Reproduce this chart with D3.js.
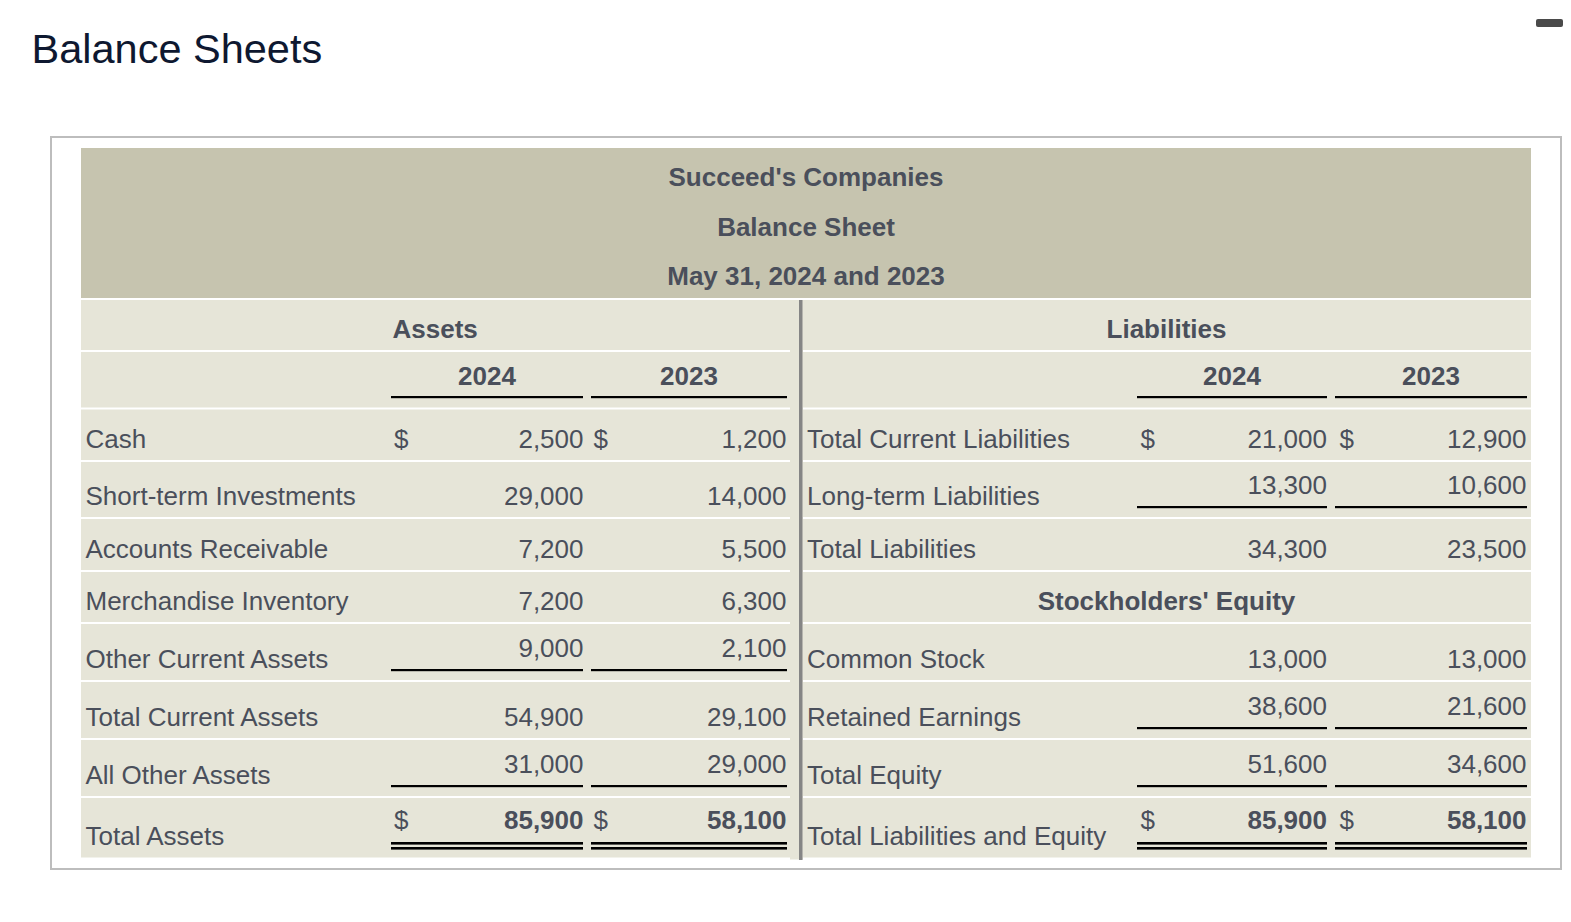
<!DOCTYPE html>
<html>
<head>
<meta charset="utf-8">
<script src="https://cdn.jsdelivr.net/npm/d3@7"></script>
<style>
  body { margin: 0; background: #fff; }
  svg text { font-family: "Liberation Sans", Arial, Helvetica, sans-serif; }
</style>
</head>
<body>
<svg width="1571" height="922"></svg>
<script>
var svg = d3.select('svg');

// header text of the statement
var titleLines = ["Succeed's Companies", "Balance Sheet", "May 31, 2024 and 2023"];
var years = ["2024", "2023"];

// left side: assets
var assetLabels = ["Cash", "Short-term Investments", "Accounts Receivable", "Merchandise Inventory",
                   "Other Current Assets", "Total Current Assets", "All Other Assets", "Total Assets"];
var assets2024 = [2500, 29000, 7200, 7200, 9000, 54900, 31000, 85900];
var assets2023 = [1200, 14000, 5500, 6300, 2100, 29100, 29000, 58100];

// right side: liabilities and equity (null = heading row)
var liabLabels = ["Total Current Liabilities", "Long-term Liabilities", "Total Liabilities", "Stockholders' Equity",
                  "Common Stock", "Retained Earnings", "Total Equity", "Total Liabilities and Equity"];
var liab2024 = [21000, 13300, 34300, null, 13000, 38600, 51600, 85900];
var liab2023 = [12900, 10600, 23500, null, 13000, 21600, 34600, 58100];

// how each body row is formatted: dollar sign, underline under the figures, bold
var assetFmt = [
  {dollar: true}, {}, {}, {}, {line: 1}, {}, {line: 1}, {dollar: true, line: 2, bold: true}
];
var liabFmt = [
  {dollar: true}, {line: 1}, {}, {heading: true}, {}, {line: 1}, {line: 1}, {dollar: true, line: 2, bold: true}
];

var fmt = d3.format(',');
var textColor = '#4a4f5b';
var fs = 26;

// ---- row geometry (header, section row, year row, 8 body rows) ----
var rowHeights = [150, 50, 55.5, 50.5, 55, 51, 50, 56, 56, 56, 59.5];
var gap = 2;
var tableTop = 148, tableLeft = 81, tableRight = 1531;
var tops = [];
var acc = tableTop;
rowHeights.forEach(function(h){ tops.push(acc); acc += h + gap; });
var y = d3.scaleOrdinal().domain(d3.range(rowHeights.length)).range(tops);
function bottom(i){ return y(i) + rowHeights[i]; }
var lastRow = rowHeights.length - 1;

// column anchors
var x = d3.scaleOrdinal()
  .domain(['lLabel', 'lD1', 'lV1', 'lD2', 'lV2', 'rLabel', 'rD1', 'rV1', 'rD2', 'rV2', 'rMid'])
  .range([85.5, 394, 583.5, 593.5, 786.5, 807, 1140.5, 1327, 1339.5, 1526.5, 1166.5]);
var lineSpans = {
  left: [[391, 583], [591, 787]],
  right: [[1137, 1327], [1335, 1527]]
};

// page title
svg.append('text')
  .attr('x', 31.5).attr('y', 63)
  .attr('font-size', 41.5)
  .attr('fill', '#0e1830')
  .text('Balance Sheets');

// little dark mark in the top right corner
svg.append('rect')
  .attr('x', 1536).attr('y', 19).attr('width', 27).attr('height', 8)
  .attr('rx', 2).attr('fill', '#4a4a4a');

// outer frame
svg.append('rect')
  .attr('x', 51).attr('y', 137).attr('width', 1510).attr('height', 732)
  .attr('fill', '#fff').attr('stroke', '#bdbdbd').attr('stroke-width', 2);

// header band
svg.append('rect')
  .attr('x', tableLeft).attr('y', y(0)).attr('width', tableRight - tableLeft).attr('height', rowHeights[0])
  .attr('fill', '#c6c4af');

svg.selectAll('.titleLine')
  .data(titleLines)
  .enter()
  .append('text')
  .attr('class', 'titleLine')
  .attr('x', (tableLeft + tableRight) / 2)
  .attr('y', function(d, i){ return 186 + i * 49.5; })
  .attr('text-anchor', 'middle')
  .attr('font-size', fs)
  .attr('font-weight', 'bold')
  .attr('fill', textColor)
  .text(function(d){ return d; });

// body row backgrounds, split around the centre divider
var bodyRows = d3.range(1, rowHeights.length);
svg.selectAll('.rowL')
  .data(bodyRows)
  .enter()
  .append('rect')
  .attr('class', 'rowL')
  .attr('x', tableLeft).attr('y', function(i){ return y(i); })
  .attr('width', 790.5 - tableLeft)
  .attr('height', function(i){ return rowHeights[i]; })
  .attr('fill', '#e6e5d8');
svg.selectAll('.rowR')
  .data(bodyRows)
  .enter()
  .append('rect')
  .attr('class', 'rowR')
  .attr('x', 803).attr('y', function(i){ return y(i); })
  .attr('width', tableRight - 803)
  .attr('height', function(i){ return rowHeights[i]; })
  .attr('fill', '#e6e5d8');

// divider strip
svg.append('rect')
  .attr('x', 790).attr('y', y(1)).attr('width', 13).attr('height', bottom(lastRow) - y(1) + 2)
  .attr('fill', '#e6e5d8');
svg.append('rect')
  .attr('x', 799).attr('y', y(1)).attr('width', 3.5).attr('height', bottom(lastRow) - y(1) + 2.5)
  .attr('fill', '#858585');

// section headings
svg.append('text')
  .attr('x', 392.5).attr('y', bottom(1) - 11.7)
  .attr('font-size', fs).attr('font-weight', 'bold').attr('fill', textColor)
  .text('Assets');
svg.append('text')
  .attr('x', x('rMid')).attr('y', bottom(1) - 11.7)
  .attr('text-anchor', 'middle')
  .attr('font-size', fs).attr('font-weight', 'bold').attr('fill', textColor)
  .text('Liabilities');

// year headings with underline
var allSpans = lineSpans.left.concat(lineSpans.right);
var yearCells = [years[0], years[1], years[0], years[1]];
svg.selectAll('.year')
  .data(yearCells)
  .enter()
  .append('text')
  .attr('class', 'year')
  .attr('x', function(d, i){ return (allSpans[i][0] + allSpans[i][1]) / 2; })
  .attr('y', bottom(2) - 23)
  .attr('text-anchor', 'middle')
  .attr('font-size', fs).attr('font-weight', 'bold').attr('fill', textColor)
  .text(function(d){ return d; });
svg.selectAll('.yearLine')
  .data(allSpans)
  .enter()
  .append('rect')
  .attr('class', 'yearLine')
  .attr('x', function(d){ return d[0]; })
  .attr('y', bottom(2) - 11.5)
  .attr('width', function(d){ return d[1] - d[0]; })
  .attr('height', 2.2)
  .attr('fill', '#000');

// draws one side of the statement
function drawSide(side, labels, v1, v2, fmts){
  var pre = side == 'left' ? 'l' : 'r';
  var g = svg.append('g').attr('class', side);
  labels.forEach(function(label, k){
    var row = k + 3;
    var b = bottom(row);
    var f = fmts[k];

    if(f.heading){
      g.append('text')
        .attr('x', x('rMid')).attr('y', b - 12.5)
        .attr('text-anchor', 'middle')
        .attr('font-size', fs).attr('font-weight', 'bold').attr('fill', textColor)
        .text(label);
      return;
    }

    g.append('text')
      .attr('x', x(pre + 'Label')).attr('y', b - 12.5)
      .attr('font-size', fs).attr('fill', textColor)
      .text(label);

    var vy = f.line == 2 ? b - 29 : (f.line == 1 ? b - 23.5 : b - 12.5);
    [v1[k], v2[k]].forEach(function(v, c){
      g.append('text')
        .attr('x', x(pre + 'V' + (c + 1))).attr('y', vy)
        .attr('text-anchor', 'end')
        .attr('font-size', fs)
        .attr('font-weight', f.bold ? 'bold' : 'normal')
        .attr('fill', textColor)
        .text(fmt(v));
      if(f.dollar){
        g.append('text')
          .attr('x', x(pre + 'D' + (c + 1))).attr('y', vy)
          .attr('font-size', fs).attr('fill', textColor)
          .text('$');
      }
      var span = lineSpans[side][c];
      if(f.line == 1){
        g.append('rect')
          .attr('x', span[0]).attr('y', b - 11)
          .attr('width', span[1] - span[0]).attr('height', 2.2)
          .attr('fill', '#000');
      }
      if(f.line == 2){
        [b - 15.5, b - 10.5].forEach(function(ly){
          g.append('rect')
            .attr('x', span[0]).attr('y', ly)
            .attr('width', span[1] - span[0]).attr('height', 2.6)
            .attr('fill', '#000');
        });
      }
    });
  });
}

drawSide('left', assetLabels, assets2024, assets2023, assetFmt);
drawSide('right', liabLabels, liab2024, liab2023, liabFmt);
</script>
</body>
</html>
